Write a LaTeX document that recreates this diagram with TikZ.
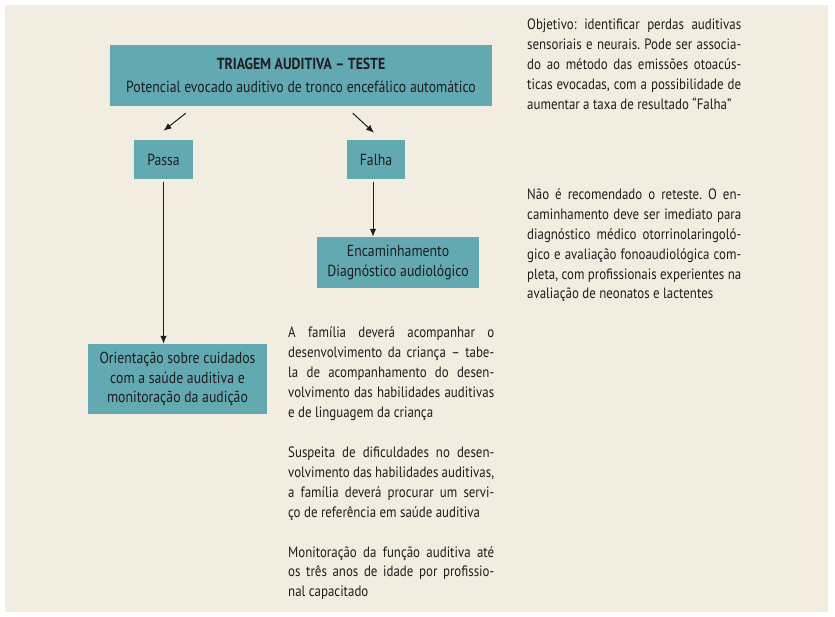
\documentclass[tikz,border=0pt]{standalone}
\usepackage{fontspec}
\setmainfont[FakeStretch=0.86]{PT Sans}
\usetikzlibrary{arrows.meta, positioning}
\definecolor{paper}{HTML}{F3ECE0}
\definecolor{boxfill}{HTML}{62A9B1}
\definecolor{ink}{HTML}{1E1E1E}
\frenchspacing
\tikzset{
    box/.style={
        fill=boxfill,
        inner sep=0pt,
        align=center,
        text=ink,
        font=\fontsize{16}{19.5}\selectfont
    },
    line/.style={-{Latex[length=8pt,width=6.5pt]}, line width=1pt, draw=ink},
    note/.style={anchor=north west, inner sep=0pt, align=justify, text=ink,
        execute at begin node={\hyphenpenalty=10000\tolerance=10000}},
    every node/.style={font=\fontsize{15}{19.8}\selectfont}
}

\begin{document}
\begin{tikzpicture}[x=1pt, y=-1pt]
\useasboundingbox (0,0) rectangle (835,617);
\fill[paper] (5,5) rectangle (828,612);

\node[box, minimum width=382pt, minimum height=61pt] (teste) at (301,75.5)
    {\textbf{TRIAGEM AUDITIVA -- TESTE}\\[3pt]
     Potencial evocado auditivo de tronco encefálico automático};
\node[box, minimum width=59pt, minimum height=39pt] (passa) at (163.5,159.5) {Passa};
\node[box, minimum width=58pt, minimum height=39pt] (falha) at (376,159.5) {Falha};
\node[box, minimum width=162pt, minimum height=51pt] (encam) at (398,262.5)
    {Encaminhamento\\Diagnóstico audiológico};
\node[box, minimum width=179pt, minimum height=70pt] (orient) at (177.5,379)
    {Orientação sobre cuidados\\com a saúde auditiva e\\monitoração da audição};

\draw[line] ([xshift=76pt, yshift=-7pt]teste.south west) -- ([yshift=9pt]passa.north);
\draw[line] ([xshift=243pt, yshift=-7pt]teste.south west) -- ([xshift=-2pt, yshift=7pt]falha.north);
\draw[line, shorten <=3pt] (passa.south) -- (passa.south |- orient.north);
\draw[line, shorten <=3pt] ([xshift=-3pt]falha.south) -- ([xshift=-3pt]falha.south |- encam.north);

% notas
\node[note, text width=214pt] (objetivo) at (527,19)
    {Objetivo: identificar perdas auditivas\linebreak
     sensoriais e neurais. Pode ser associa-\linebreak
     do ao método das emissões otoacús-\linebreak
     ticas evocadas, com a possibilidade de\linebreak
     aumentar a taxa de resultado “Falha”};
\node[note, text width=214pt] (reteste) at (527,189)
    {Não é recomendado o reteste. O en-\linebreak
     caminhamento deve ser imediato para\linebreak
     diagnóstico médico otorrinolaringoló-\linebreak
     gico e avaliação fonoaudiológica com-\linebreak
     pleta, com profissionais experientes na\linebreak
     avaliação de neonatos e lactentes};
\node[note, text width=206pt] (familia) at (288,327)
    {A família deverá acompanhar o\linebreak
     desenvolvimento da criança -- tabe-\linebreak
     la de acompanhamento do desen-\linebreak
     volvimento das habilidades auditivas\linebreak
     e de linguagem da criança};
\node[note, text width=206pt] (suspeita) at (288,447)
    {Suspeita de dificuldades no desen-\linebreak
     volvimento das habilidades auditivas,\linebreak
     a família deverá procurar um servi-\linebreak
     ço de referência em saúde auditiva};
\node[note, text width=206pt] (monitor) at (288,546)
    {Monitoração da função auditiva até\linebreak
     os três anos de idade por profissio-\linebreak
     nal capacitado};
\end{tikzpicture}
\end{document}
